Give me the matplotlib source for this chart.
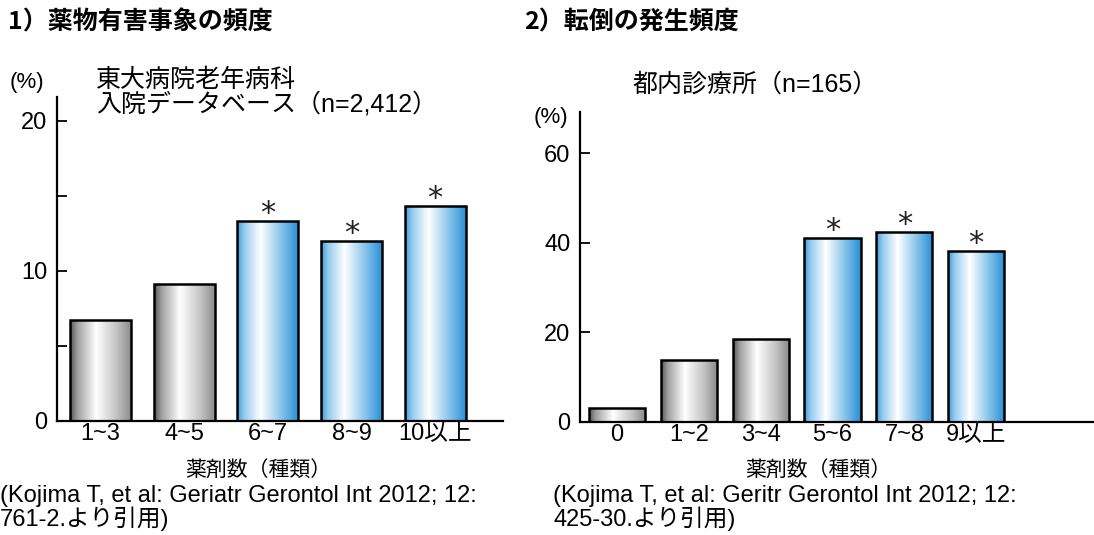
import numpy as np
import matplotlib
matplotlib.use("Agg")
import matplotlib.pyplot as plt
from matplotlib.colors import LinearSegmentedColormap

plt.rcParams['font.family'] = ['Liberation Sans', 'Noto Sans CJK JP', 'DejaVu Sans']

# ---- data ----
left_title = "1）薬物有害事象の頻度"
right_title = "2）転倒の発生頻度"
left_cats = ["1~3", "4~5", "6~7", "8~9", "10以上"]
left_vals = [6.7, 9.1, 13.3, 12.0, 14.3]
left_sig = [False, False, True, True, True]
left_yticks = [0, 10, 20]
left_minor = [5, 15]
right_cats = ["0", "1~2", "3~4", "5~6", "7~8", "9以上"]
right_vals = [3.1, 13.8, 18.5, 41.0, 42.3, 38.1]
right_sig = [False, False, False, True, True, True]
right_yticks = [0, 20, 40, 60]
left_note = "東大病院老年病科\n入院データベース（n=2,412）"
right_note = "都内診療所（n=165）"
xlabel = "薬剤数（種類）"
left_cite = "(Kojima T, et al: Geriatr Gerontol Int 2012; 12:\n761-2.より引用)"
right_cite = "(Kojima T, et al: Geritr Gerontol Int 2012; 12:\n425-30.より引用)"

W, H = 1094, 535
fig = plt.figure(figsize=(W / 100, H / 100), dpi=100)

def fx(px):
    return px / W

def fy(py):
    return 1 - py / H

gray_cmap = LinearSegmentedColormap.from_list(
    "g", [(0, "#555555"), (0.12, "#a0a0a0"), (0.42, "#ffffff"), (0.75, "#c4c4c4"), (1, "#888888")])
blue_cmap = LinearSegmentedColormap.from_list(
    "b", [(0, "#3d9cdc"), (0.12, "#97ccef"), (0.38, "#ffffff"), (0.72, "#86c3eb"), (1, "#268dd5")])

def draw_panel(ax, cats, vals, sig, width, xlim, ylim, yticks, minor=None):
    x = np.arange(len(cats))
    bars = ax.bar(x, vals, width=width, facecolor="none", edgecolor="black",
                  linewidth=1.8, zorder=3)
    grad = np.linspace(0, 1, 256).reshape(1, -1)
    for b, s in zip(bars, sig):
        bx, by = b.get_x(), b.get_y()
        bw, bh = b.get_width(), b.get_height()
        ax.imshow(grad, cmap=blue_cmap if s else gray_cmap, aspect="auto",
                  extent=[bx, bx + bw, by, by + bh], zorder=2,
                  interpolation="bilinear")
        if s:
            ax.annotate("*", xy=(bx + bw / 2, by + bh), xytext=(0, -5),
                        textcoords="offset points", ha="center", va="bottom",
                        fontsize=22, color="#222222", family="DejaVu Sans")
    ax.set_xlim(*xlim)
    ax.set_ylim(*ylim)
    ax.set_xticks(x)
    ax.set_xticklabels(cats, fontsize=17)
    ax.set_yticks(yticks)
    ax.set_yticklabels([str(t) for t in yticks], fontsize=17)
    if minor:
        ax.set_yticks(minor, minor=True)
    ax.tick_params(axis="y", which="both", direction="in", length=7, width=1.3, pad=7)
    ax.tick_params(axis="x", length=0, pad=2)
    for s in ("top", "right"):
        ax.spines[s].set_visible(False)
    for s in ("left", "bottom"):
        ax.spines[s].set_linewidth(1.6)
    ax.set_facecolor("none")

ax1 = fig.add_axes([fx(57), fy(420.7), fx(503 - 57), (420.7 - 97) / H])
draw_panel(ax1, left_cats, left_vals, left_sig, 0.73, (-0.52, 4.81), (0, 21.6),
           left_yticks, left_minor)

ax2 = fig.add_axes([fx(580), fy(421.7), fx(1094 - 580), (421.7 - 112) / H])
draw_panel(ax2, right_cats, right_vals, right_sig, 0.78, (-0.515, 6.64), (0, 69.2),
           right_yticks)

cjk = ['Noto Sans CJK JP', 'DejaVu Sans']
fig.text(fx(8), fy(22), left_title, fontsize=18, fontweight="bold", family=cjk,
         ha="left", va="center")
fig.text(fx(524), fy(22), right_title, fontsize=18, fontweight="bold", family=cjk,
         ha="left", va="center")

fig.text(fx(10), fy(82), "(%)", fontsize=16, ha="left", va="center")
fig.text(fx(534), fy(118), "(%)", fontsize=16, ha="left", va="center")
fig.text(fx(96), fy(92), left_note, fontsize=18, ha="left", va="center",
         linespacing=0.98)
fig.text(fx(632), fy(85), right_note, fontsize=18, ha="left", va="center")

fig.text(fx(258), fy(470), xlabel, fontsize=15, ha="center", va="center", family=cjk)
fig.text(fx(818), fy(470), xlabel, fontsize=15, ha="center", va="center", family=cjk)

fig.text(fx(0), fy(508), left_cite, fontsize=17, ha="left", va="center",
         linespacing=0.98)
fig.text(fx(553), fy(508), right_cite, fontsize=17, ha="left", va="center",
         linespacing=0.98)

fig.savefig("out.png", dpi=100)
